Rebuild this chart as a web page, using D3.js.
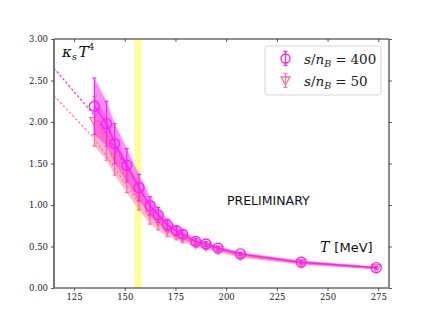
<!DOCTYPE html>
<html>
<head>
<meta charset="utf-8">
<script src="https://cdn.jsdelivr.net/npm/d3@7"></script>
<style>
  body { margin: 0; background: #fff; }
  svg { display: block; }
</style>
</head>
<body>
<div id="content"></div>
<script>
// data
var temps = [135, 141, 145, 151, 157, 162.5, 166.5, 171, 175.5, 178.5, 185, 190, 196, 207, 237, 274];
var kappa400 = [2.19, 1.98, 1.74, 1.48, 1.21, 0.99, 0.88, 0.76, 0.69, 0.65, 0.56, 0.53, 0.48, 0.41, 0.31, 0.245];
var err400 = [0.34, 0.27, 0.24, 0.2, 0.16, 0.11, 0.09, 0.07, 0.05, 0.045, 0.035, 0.03, 0.025, 0.02, 0.02, 0.015];
var kappa50 = [2.01, 1.80, 1.58, 1.34, 1.10, 0.89, 0.80, 0.70, 0.64, 0.60, 0.53, 0.50, 0.46, 0.39, 0.30, 0.238];
var err50 = [0.3, 0.26, 0.22, 0.19, 0.16, 0.12, 0.1, 0.08, 0.06, 0.05, 0.04, 0.035, 0.03, 0.025, 0.02, 0.015];
var dashT = [115, 135, 157];
var dash400 = [2.65, 2.08, 1.22];
var dash50 = [2.32, 1.80, 1.02];
var tcBand = [155, 158];
var xTicks = [125, 150, 175, 200, 225, 250, 275];
var yTicks = [0, 0.5, 1, 1.5, 2, 2.5, 3];

var width = 432, height = 324;
var margin = {top: 39, right: 43, bottom: 36, left: 54};
var c400 = '#ff1aff', c50 = '#ff6fa0';
var SERIF = 'DejaVu Serif';
var SANS = 'DejaVu Sans';

var svg = d3.select('#content').append('svg').attr('width', width).attr('height', height);

var x = d3.scaleLinear().domain([115.1, 280.3]).range([margin.left, width - margin.right]);
var y = d3.scaleLinear().domain([0, 3]).range([height - margin.bottom, margin.top]);

svg.append('clipPath').attr('id', 'clip').append('rect')
  .attr('x', margin.left).attr('y', margin.top)
  .attr('width', width - margin.left - margin.right)
  .attr('height', height - margin.top - margin.bottom);

var plot = svg.append('g').attr('clip-path', 'url(#clip)');

// yellow Tc band
plot.append('rect')
  .attr('x', x(tcBand[0])).attr('width', x(tcBand[1]) - x(tcBand[0]))
  .attr('y', margin.top).attr('height', height - margin.top - margin.bottom)
  .style('fill', '#ffff50').style('opacity', 0.65);

function series(vals, errs, color, bandOpacity) {
  var pts = temps.map(function(t, i){ return {t: t, v: vals[i], e: errs[i]}; });
  var area = d3.area()
    .x(function(d){ return x(d.t); })
    .y0(function(d){ return y(d.v - d.e); })
    .y1(function(d){ return y(d.v + d.e); });
  plot.append('path').datum(pts).attr('d', area)
    .style('fill', color).style('opacity', bandOpacity);
  return pts;
}

var p50 = series(kappa50, err50, c50, 0.5);
var p400 = series(kappa400, err400, c400, 0.5);

// dashed extrapolations
var dline = d3.line().x(function(d){ return x(d[0]); }).y(function(d){ return y(d[1]); });
plot.append('path').datum(dashT.map(function(t, i){ return [t, dash400[i]]; }))
  .attr('d', dline).style('fill', 'none').style('stroke', c400)
  .style('stroke-width', 1.1).style('stroke-dasharray', '2.5,2');
plot.append('path').datum(dashT.map(function(t, i){ return [t, dash50[i]]; }))
  .attr('d', dline).style('fill', 'none').style('stroke', c50)
  .style('stroke-width', 1.1).style('stroke-dasharray', '2.5,2');

function drawPoints(pts, color, shape) {
  var line = d3.line().x(function(d){ return x(d.t); }).y(function(d){ return y(d.v); });
  plot.append('path').datum(pts).attr('d', line)
    .style('fill', 'none').style('stroke', color).style('stroke-width', 1.3);

  var g = plot.selectAll('.pt-' + shape).data(pts).enter().append('g')
    .attr('class', 'pt-' + shape);
  g.append('line')
    .attr('x1', function(d){ return x(d.t); }).attr('x2', function(d){ return x(d.t); })
    .attr('y1', function(d){ return y(d.v - d.e); }).attr('y2', function(d){ return y(d.v + d.e); })
    .style('stroke', color).style('stroke-width', 1.2);
  [-1, 1].forEach(function(s){
    g.append('line')
      .attr('x1', function(d){ return x(d.t) - 2; }).attr('x2', function(d){ return x(d.t) + 2; })
      .attr('y1', function(d){ return y(d.v + s * d.e); }).attr('y2', function(d){ return y(d.v + s * d.e); })
      .style('stroke', color).style('stroke-width', 1.2);
  });
  if (shape === 'circle') {
    g.append('circle').attr('cx', function(d){ return x(d.t); }).attr('cy', function(d){ return y(d.v); })
      .attr('r', 5).style('fill', 'none').style('stroke', color).style('stroke-width', 1.3);
  } else {
    g.append('path')
      .attr('transform', function(d){ return 'translate(' + x(d.t) + ',' + y(d.v) + ')'; })
      .attr('d', 'M-4.5,-3.5L4.5,-3.5L0,4.5Z')
      .style('fill', 'none').style('stroke', color).style('stroke-width', 1.3);
  }
}

drawPoints(p50, c50, 'tri');
drawPoints(p400, c400, 'circle');

// frame
var L = margin.left, R = width - margin.right, T = margin.top, B = height - margin.bottom;
svg.append('line').attr('x1', L).attr('x2', R).attr('y1', T).attr('y2', T).style('stroke', '#222').style('stroke-width', 1);
svg.append('line').attr('x1', L).attr('x2', R).attr('y1', B).attr('y2', B).style('stroke', '#222').style('stroke-width', 1);
svg.append('line').attr('x1', L).attr('x2', L).attr('y1', T).attr('y2', B).style('stroke', '#777').style('stroke-width', 2);
svg.append('line').attr('x1', R).attr('x2', R).attr('y1', T).attr('y2', B).style('stroke', '#666').style('stroke-width', 1.5);

// axes via d3
var xAxis = svg.append('g').attr('transform', 'translate(0,' + B + ')')
  .call(d3.axisBottom(x).tickValues(xTicks).tickSize(3).tickPadding(3).tickFormat(d3.format('d')));
var xTop = svg.append('g').attr('transform', 'translate(0,' + T + ')')
  .call(d3.axisTop(x).tickValues(xTicks).tickSize(-3).tickFormat(''));
var yAxis = svg.append('g').attr('transform', 'translate(' + L + ',0)')
  .call(d3.axisLeft(y).tickValues(yTicks).tickSize(3).tickPadding(3).tickFormat(d3.format('.2f')));
var yRight = svg.append('g').attr('transform', 'translate(' + R + ',0)')
  .call(d3.axisRight(y).tickValues(yTicks).tickSize(3).tickFormat(''));
[xAxis, xTop, yAxis, yRight].forEach(function(a){
  a.select('.domain').remove();
  a.selectAll('.tick line').style('stroke', '#333').style('stroke-width', 0.8);
  a.selectAll('text').attr('font-family', SERIF).attr('font-size', 8.5).style('fill', '#222');
});

// labels
var ylab = svg.append('text').attr('font-family', SERIF).attr('x', 62).attr('y', 57)
  .attr('font-size', 15).style('fill', '#111');
ylab.append('tspan').attr('font-style', 'italic').text('κ');
ylab.append('tspan').attr('font-style', 'italic').attr('font-size', 10).attr('dy', 3).text('s');
ylab.append('tspan').attr('font-style', 'italic').attr('dy', -3).attr('dx', 1.5).text('T');
ylab.append('tspan').attr('font-size', 9).attr('dy', -7).text('4');

var tlab = svg.append('text').attr('x', 320).attr('y', 252).style('fill', '#111');
tlab.append('tspan').attr('font-family', SERIF).attr('font-style', 'italic').attr('font-size', 14).text('T');
tlab.append('tspan').attr('font-family', SANS).attr('font-size', 13).attr('dx', 5).text('[MeV]');

svg.append('text').attr('font-family', SANS).attr('x', 227).attr('y', 205)
  .attr('font-size', 12.5).style('fill', '#111')
  .text('PRELIMINARY');

// legend
var leg = svg.append('g');
leg.append('rect').attr('x', 265).attr('y', 46).attr('width', 116).attr('height', 49).attr('rx', 3)
  .style('fill', '#fff').style('fill-opacity', 0.8).style('stroke', '#ccc').style('stroke-width', 0.8);
var legItems = [
  {label: '400', color: c400, shape: 'circle', y: 58.5},
  {label: '50', color: c50, shape: 'tri', y: 80.5}
];
legItems.forEach(function(it){
  var mx = 285.5;
  leg.append('line').attr('x1', mx).attr('x2', mx).attr('y1', it.y - 7).attr('y2', it.y + 7)
    .style('stroke', it.color).style('stroke-width', 1.2);
  leg.append('line').attr('x1', mx - 2).attr('x2', mx + 2).attr('y1', it.y - 7).attr('y2', it.y - 7)
    .style('stroke', it.color).style('stroke-width', 1.2);
  leg.append('line').attr('x1', mx - 2).attr('x2', mx + 2).attr('y1', it.y + 7).attr('y2', it.y + 7)
    .style('stroke', it.color).style('stroke-width', 1.2);
  if (it.shape === 'circle') {
    leg.append('circle').attr('cx', mx).attr('cy', it.y).attr('r', 4.5)
      .style('fill', 'none').style('stroke', it.color).style('stroke-width', 1.3);
  } else {
    leg.append('path').attr('transform', 'translate(' + mx + ',' + it.y + ')')
      .attr('d', 'M-4.5,-3.5L4.5,-3.5L0,4.5Z')
      .style('fill', 'none').style('stroke', it.color).style('stroke-width', 1.3);
  }
  var t = leg.append('text').attr('font-family', SERIF).attr('x', 304).attr('y', it.y + 5)
    .attr('font-size', 13.5).style('fill', '#222');
  t.append('tspan').attr('font-style', 'italic').text('s');
  t.append('tspan').text('/');
  t.append('tspan').attr('font-style', 'italic').text('n');
  t.append('tspan').attr('font-style', 'italic').attr('font-size', 9.5).attr('dy', 3).text('B');
  t.append('tspan').attr('dy', -3).attr('dx', 4).text('=');
  t.append('tspan').attr('dx', 4).text(it.label);
});
</script>
</body>
</html>
